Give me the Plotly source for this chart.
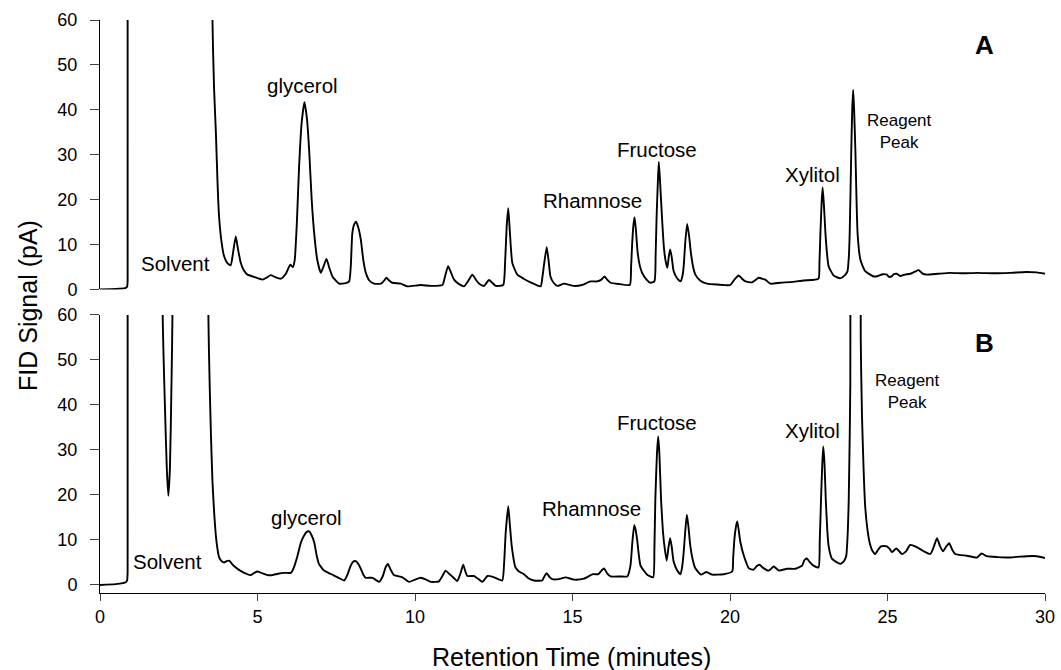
import plotly.graph_objects as go

# ---------------- data ----------------
# Panel A chromatogram (retention time in minutes, FID signal in pA).
# None marks where the trace runs off the top of the panel.
time_a = [0, 0.5, 0.8, 0.86, 0.877, 0.879, None, 3.50, 3.57, 3.62, 3.68, 3.73, 3.78, 3.86, 3.94, 4.05, 4.15,
          4.22, 4.31, 4.38, 4.47, 4.57, 4.68, 4.89, 5.16, 5.3, 5.42, 5.55, 5.74, 5.9, 6.04, 6.12, 6.18,
          6.25, 6.32, 6.40, 6.49, 6.57, 6.64, 6.72, 6.80, 6.90, 7.01, 7.10, 7.19, 7.28, 7.38, 7.59, 7.80,
          7.91, 7.96, 8.01, 8.07, 8.13, 8.20, 8.28, 8.36, 8.44, 8.55, 8.70, 8.92, 9.00, 9.09, 9.18, 9.28,
          9.55, 9.76, 10.18, 10.50, 10.87, 10.95, 11.05, 11.14, 11.24, 11.40, 11.56, 11.68, 11.82, 11.95,
          12.05, 12.19, 12.35, 12.45, 12.56, 12.80, 12.86, 12.91, 12.96, 13.01, 13.09, 13.25, 13.45, 13.67,
          13.99, 14.04, 14.09, 14.18, 14.24, 14.30, 14.40, 14.52, 14.73, 15.04, 15.30, 15.57, 15.78, 15.92,
          16.02, 16.10, 16.21, 16.50, 16.82, 16.86, 16.89, 16.93, 16.97, 17.01, 17.07, 17.14, 17.21, 17.35,
          17.47, 17.60, 17.64, 17.67, 17.71, 17.74, 17.78, 17.84, 17.90, 17.95, 18.01, 18.06, 18.10, 18.15,
          18.21, 18.32, 18.43, 18.49, 18.53, 18.58, 18.64, 18.70, 18.76, 18.83, 18.90, 19.05, 19.27, 19.60,
          20.01, 20.14, 20.28, 20.38, 20.49, 20.70, 20.91, 21.02, 21.12, 21.28, 21.60, 22.00, 22.34, 22.60,
          22.81, 22.84, 22.87, 22.91, 22.94, 22.98, 23.03, 23.08, 23.13, 23.29, 23.50, 23.65, 23.73, 23.77,
          23.80, 23.85, 23.88, 23.91, 23.94, 23.98, 24.05, 24.14, 24.29, 24.56, 24.70, 24.85, 24.98, 25.05,
          25.13, 25.20, 25.29, 25.40, 25.55, 25.72, 25.85, 25.99, 26.10, 26.25, 26.60, 26.99, 27.40, 27.84,
          28.40, 28.89, 29.40, 29.74, 30.0]
signal_a = [0, 0.1, 0.3, 0.6, 2, 400, None, 400, 60, 45, 34.7, 24, 16.2, 10.5, 7.4, 5.8, 5.4,
            8, 11.8, 9, 5.9, 4.2, 3.3, 2.8, 2.2, 2.7, 3.2, 2.8, 2.4, 3.5, 5.5, 5.0, 6.5,
            15, 27.3, 37, 41.7, 38, 31, 20, 12.5, 6.5, 3.7, 5.2, 6.8, 4.8, 2.9, 1.3, 1.4,
            1.8, 5, 12.5, 14.5, 15.1, 13.8, 11.1, 6.5, 3.7, 2.0, 1.3, 1.3, 1.8, 2.6, 2.0, 1.5,
            1.3, 0.7, 1.0, 0.8, 1.0, 2.8, 5.2, 3.8, 2.2, 1.2, 0.7, 1.8, 3.3, 2.0,
            1.2, 0.8, 2.1, 1.5, 0.8, 1.0, 6, 14, 18.1, 13, 5.9, 3.3, 2.4, 1.6,
            0.7, 2.5, 5.2, 9.4, 6.5, 2.9, 1.5, 0.8, 1.3, 0.8, 1.0, 1.8, 1.8, 2.2,
            2.9, 2.2, 1.5, 1.2, 1.0, 5, 9.6, 14, 16.1, 13.5, 8.1, 5.2, 3.7, 2.2,
            1.5, 1.8, 8, 16.2, 24, 28.4, 24, 16.2, 9.5, 6.6, 4.8, 7.5, 8.9, 7.2,
            4.1, 2.5, 1.8, 3, 5.2, 10.5, 14.6, 12, 8.1, 5, 3.3, 2.0, 1.3, 1.1,
            1.0, 2.2, 3.1, 2.4, 1.8, 1.6, 2.6, 2.4, 2.2, 1.3, 1.5, 1.7, 2.0, 2.1,
            2.4, 6, 12.5, 19.5, 22.7, 19, 12.5, 8, 5.2, 3.1, 2.5, 3.2, 4.1, 7,
            12.5, 31, 40, 44.4, 40, 31, 12.5, 6.6, 4.1, 2.9, 3.0, 3.4, 3.3, 2.8,
            2.9, 3.4, 3.5, 3.0, 3.3, 3.5, 3.9, 4.3, 3.6, 3.3, 3.5, 3.7, 3.6, 3.7,
            3.6, 3.7, 3.9, 3.8, 3.5]

# Panel B chromatogram
time_b = [0, 0.5, 0.82, 0.86, 0.877, 0.879, None, 1.96, 1.99, 2.06, 2.12, 2.17, 2.22, 2.27, 2.30, 2.33, None,
          3.41, 3.44, 3.48, 3.52, 3.57, 3.63, 3.70, 3.78, 3.86, 3.94, 4.02, 4.10, 4.20, 4.31, 4.45, 4.58, 4.79,
          4.90, 5.00, 5.15, 5.32, 5.47, 5.65, 5.85, 6.06, 6.15, 6.27, 6.38, 6.48, 6.56, 6.64, 6.72, 6.80,
          6.88, 6.95, 7.11, 7.25, 7.43, 7.60, 7.75, 7.85, 7.96, 8.04, 8.12, 8.20, 8.28, 8.36, 8.44, 8.65,
          8.86, 8.98, 9.07, 9.14, 9.22, 9.33, 9.60, 9.81, 10.00, 10.18, 10.35, 10.50, 10.76, 10.87, 10.97,
          11.08, 11.18, 11.34, 11.44, 11.53, 11.60, 11.66, 11.87, 12.00, 12.14, 12.30, 12.51, 12.77, 12.83,
          12.88, 12.96, 13.01, 13.07, 13.19, 13.30, 13.46, 13.60, 13.78, 14.04, 14.10, 14.18, 14.27, 14.36,
          14.57, 14.78, 15.04, 15.36, 15.65, 15.82, 15.92, 16.00, 16.10, 16.21, 16.52, 16.74, 16.84, 16.90,
          16.96, 17.00, 17.05, 17.16, 17.37, 17.56, 17.60, 17.63, 17.68, 17.72, 17.76, 17.81, 17.87, 17.93,
          17.99, 18.05, 18.10, 18.15, 18.21, 18.32, 18.43, 18.48, 18.53, 18.58, 18.63, 18.68, 18.74, 18.82,
          18.90, 19.08, 19.25, 19.43, 19.80, 20.07, 20.10, 20.14, 20.19, 20.23, 20.28, 20.33, 20.44, 20.60,
          20.75, 20.85, 20.94, 21.05, 21.23, 21.39, 21.55, 21.81, 22.07, 22.29, 22.36, 22.44, 22.52, 22.65,
          22.81, 22.85, 22.89, 22.93, 22.96, 23.00, 23.04, 23.09, 23.13, 23.24, 23.50, 23.62, 23.69, 23.74,
          23.77, 23.82, 23.86, None, 24.12, 24.15, 24.19, 24.24, 24.29, 24.36, 24.43, 24.52, 24.61, 24.70, 24.79,
          24.98, 25.07, 25.14, 25.28, 25.46, 25.60, 25.72, 25.93, 26.15, 26.36, 26.47, 26.57, 26.67, 26.76,
          26.86, 26.96, 27.05, 27.15, 27.52, 27.84, 27.99, 28.15, 28.50, 28.89, 29.20, 29.42, 29.74, 30.0]
signal_b = [0, 0.2, 0.6, 1.0, 3, 400, None, 400, 60, 40, 26, 19.8, 26, 45, 60, 400, None,
            400, 60, 45, 33.9, 23, 15.4, 9.5, 6.2, 5.3, 5.0, 5.3, 5.4, 4.6, 3.9, 3.2, 2.7, 2.2,
            2.7, 3.0, 2.6, 2.2, 2.2, 2.5, 2.7, 2.7, 3.8, 6.5, 9.5, 11.0, 11.8, 11.9, 11.0, 9.5,
            6.5, 4.7, 3.2, 2.7, 2.1, 1.5, 1.0, 2.2, 4.3, 5.2, 5.3, 4.7, 3.6, 2.3, 1.6, 1.6,
            0.7, 2.0, 4.0, 4.7, 3.5, 2.2, 1.7, 0.7, 1.2, 1.6, 1.2, 0.7, 0.8, 2.0, 3.2,
            2.5, 1.9, 0.9, 2.5, 4.5, 3.0, 2.0, 2.0, 1.4, 0.7, 2.0, 1.7, 1.0, 5,
            11.7, 17.5, 13.5, 8.7, 3.9, 3.0, 2.4, 1.5, 1.0, 1.0, 1.8, 2.6, 1.8, 1.3,
            1.3, 1.7, 1.2, 1.4, 2.4, 2.4, 3.2, 3.7, 2.6, 1.9, 1.9, 1.9, 4.3, 9.5,
            13.3, 12.4, 10.2, 4.3, 2.3, 1.7, 8, 19.1, 29, 33.0, 29, 19.1, 12, 8.0,
            5.4, 8.5, 10.4, 8.5, 5.2, 3.3, 2.4, 4.0, 7.3, 12, 15.6, 13, 8.7, 5.5,
            3.7, 2.3, 2.9, 2.3, 2.4, 3.0, 6, 10.2, 13, 14.1, 12, 9.5, 6.5, 3.7,
            3.4, 4.2, 4.5, 3.8, 3.2, 4.1, 3.2, 3.6, 3.6, 4.3, 5.5, 5.9, 5.2, 4.3,
            3.9, 10, 19.1, 27, 30.8, 27, 19.1, 12, 8.7, 5.8, 4.7, 5.3, 6.5, 12,
            19.1, 45, 400, None, 400, 55, 37.6, 26, 17.6, 12.5, 9.5, 7.6, 6.9, 7.8, 8.6,
            8.6, 8.0, 7.3, 8.1, 6.9, 7.6, 8.9, 8.4, 7.5, 6.9, 8.5, 10.4, 8.6, 7.5,
            8.5, 9.3, 7.9, 6.9, 6.5, 6.1, 7.0, 6.4, 6.2, 6.1, 6.3, 6.4, 6.4, 6.0]

# Peak labels
labels_a = ["Solvent", "glycerol", "Rhamnose", "Fructose", "Xylitol"]
labels_b = ["Solvent", "glycerol", "Rhamnose", "Fructose", "Xylitol"]
reagent_label = "Reagent<br>Peak"
panel_names = ["A", "B"]

x_ticks = [0, 5, 10, 15, 20, 25, 30]
y_ticks = [0, 10, 20, 30, 40, 50, 60]

# ---------------- layout positions (not data) ----------------
pos_a = [(2.41, 5.8), (6.44, 45.4), (15.65, 19.8), (17.68, 31.2), (22.61, 25.7)]
pos_b = [(2.15, 5.3), (6.56, 15.0), (15.60, 17.0), (17.68, 36.2), (22.61, 34.3)]
reagent_pos_a = (25.37, 35.2)
reagent_pos_b = (25.63, 43.0)
panel_pos = [(28.07, 54.5), (28.07, 53.8)]

FONT = "Liberation Sans, Arial, Helvetica, sans-serif"
LINE = dict(color="black", width=1.9, shape="spline", smoothing=0.5)

fig = go.Figure()
fig.add_trace(go.Scatter(x=time_a, y=signal_a, mode="lines", xaxis="x2", yaxis="y2",
                         line=LINE, connectgaps=False, showlegend=False, hoverinfo="skip"))
fig.add_trace(go.Scatter(x=time_b, y=signal_b, mode="lines", xaxis="x", yaxis="y",
                         line=LINE, connectgaps=False, showlegend=False, hoverinfo="skip"))

annotations = []
for txt, (px, py) in zip(labels_a, pos_a):
    annotations.append(dict(x=px, y=py, xref="x2", yref="y2", text=txt, showarrow=False,
                            font=dict(size=20.5, color="black", family=FONT)))
for txt, (px, py) in zip(labels_b, pos_b):
    annotations.append(dict(x=px, y=py, xref="x", yref="y", text=txt, showarrow=False,
                            font=dict(size=20.5, color="black", family=FONT)))
annotations.append(dict(x=reagent_pos_a[0], y=reagent_pos_a[1], xref="x2", yref="y2",
                        text=reagent_label, showarrow=False,
                        font=dict(size=17, color="black", family=FONT)))
annotations.append(dict(x=reagent_pos_b[0], y=reagent_pos_b[1], xref="x", yref="y",
                        text=reagent_label, showarrow=False,
                        font=dict(size=17, color="black", family=FONT)))
annotations.append(dict(x=panel_pos[0][0], y=panel_pos[0][1], xref="x2", yref="y2",
                        text="<b>" + panel_names[0] + "</b>", showarrow=False,
                        font=dict(size=26, color="black", family=FONT)))
annotations.append(dict(x=panel_pos[1][0], y=panel_pos[1][1], xref="x", yref="y",
                        text="<b>" + panel_names[1] + "</b>", showarrow=False,
                        font=dict(size=26, color="black", family=FONT)))
# axis titles
annotations.append(dict(x=0.499, y=-0.112, xref="paper", yref="paper", text="Retention Time (minutes)",
                        showarrow=False, xanchor="center", yanchor="middle",
                        font=dict(size=25, color="black", family=FONT)))
annotations.append(dict(x=-0.0762, y=0.5026, xref="paper", yref="paper", text="FID Signal (pA)",
                        textangle=-90, showarrow=False, xanchor="center", yanchor="middle",
                        font=dict(size=25, color="black", family=FONT)))

yaxis_common = dict(showgrid=False, zeroline=False, showline=True, linecolor="black", linewidth=1,
                    ticks="outside", ticklen=9, tickwidth=1, tickcolor="#444", automargin=False,
                    tickvals=y_ticks, ticklabelstandoff=9,
                    tickfont=dict(size=18, color="black", family=FONT))

fig.update_layout(
    width=1061, height=670,
    margin=dict(l=100, r=16, t=20, b=77),
    paper_bgcolor="white", plot_bgcolor="white",
    font=dict(family=FONT, color="black"),
    xaxis=dict(domain=[0, 1], range=[0, 30], anchor="y", showgrid=False, zeroline=False,
               showline=True, linecolor="black", linewidth=1, ticks="outside", ticklen=7,
               tickwidth=1, tickcolor="#444", tickvals=x_ticks, automargin=False,
               tickfont=dict(size=18, color="black", family=FONT)),
    xaxis2=dict(domain=[0, 1], range=[0, 30], anchor="y2", matches="x", showgrid=False,
                zeroline=False, showline=False, ticks="", showticklabels=False, automargin=False),
    yaxis=dict(domain=[0, 0.4852], range=[-1.78, 60], anchor="x", **yaxis_common),
    yaxis2=dict(domain=[0.5297, 1], range=[0, 60], anchor="x2", **yaxis_common),
    annotations=annotations,
)

fig.write_html("out.html")
